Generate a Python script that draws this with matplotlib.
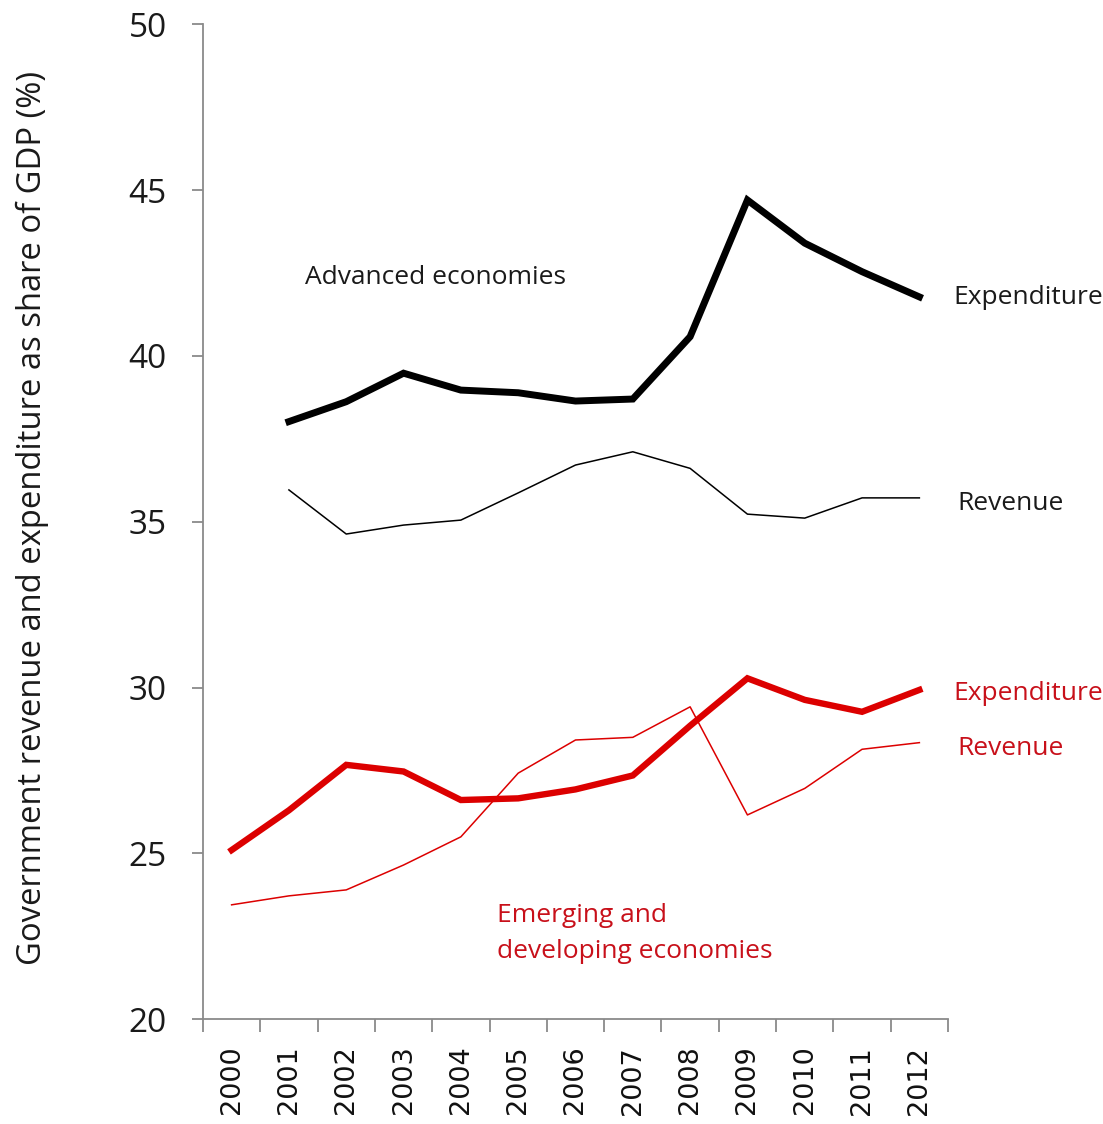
import numpy as np
import matplotlib
matplotlib.use("Agg")
import matplotlib.pyplot as plt
from matplotlib.ticker import FixedLocator, NullFormatter

# Government revenue and expenditure, % of GDP
years = [str(y) for y in range(2000, 2013)]

adv_expenditure = [np.nan, 38.02, 38.62, 39.48, 38.97, 38.89, 38.64, 38.70,
                   40.58, 44.70, 43.40, 42.54, 41.78]
adv_revenue = [np.nan, 35.96, 34.63, 34.90, 35.05, 35.87, 36.71, 37.11,
               36.61, 35.23, 35.11, 35.72, 35.72]
em_expenditure = [25.10, 26.30, 27.67, 27.47, 26.61, 26.66, 26.93, 27.35,
                  28.85, 30.28, 29.63, 29.27, 29.93]
em_revenue = [23.45, 23.72, 23.90, 24.65, 25.50, 27.42, 28.42, 28.50,
              29.42, 26.16, 26.96, 28.14, 28.34]

y_ticks = [20, 25, 30, 35, 40, 45, 50]

BLACK = "#000000"
RED_LINE = "#dc0000"
RED_TEXT = "#c8101a"
SANS = ["Open Sans", "DejaVu Sans"]
LABEL_SIZE = 19

fig = plt.figure(figsize=(11.03, 11.24), dpi=100)
ax = fig.add_axes([0.184, 0.0932, 0.8595 - 0.184, 0.9784 - 0.0932])

x = np.arange(len(years))
ax.plot(x, adv_expenditure, color=BLACK, lw=5.0, solid_joinstyle="miter")
ax.plot(x, adv_revenue, color=BLACK, lw=1.1)
ax.plot(x, em_expenditure, color=RED_LINE, lw=4.6, solid_joinstyle="miter")
ax.plot(x, em_revenue, color=RED_LINE, lw=1.1)

ax.set_xlim(-0.5, len(years) - 0.5)
ax.set_ylim(20, 50)

# Spines
for side in ("top", "right"):
    ax.spines[side].set_visible(False)
for side in ("left", "bottom"):
    ax.spines[side].set_color("#8a8a8a")
    ax.spines[side].set_linewidth(1.3)

# Y axis
ax.set_yticks(y_ticks)
ax.set_yticklabels([str(v) for v in y_ticks], fontfamily=SANS, fontsize=24,
                   color="#1a1a1a")
ax.tick_params(axis="y", direction="out", length=8, width=1.3,
               color="#8a8a8a", pad=18)

# X axis: tick marks between categories, labels at category centres
ax.xaxis.set_major_locator(FixedLocator(np.arange(-0.5, len(years), 1.0)))
ax.xaxis.set_major_formatter(NullFormatter())
ax.xaxis.set_minor_locator(FixedLocator(x))
ax.set_xticklabels(years, minor=True, rotation=90, fontfamily="DejaVu Sans",
                   fontsize=19.5, color="#111111")
ax.tick_params(axis="x", which="major", direction="out", length=9, width=1.3,
               color="#8a8a8a")
ax.tick_params(axis="x", which="minor", length=0, pad=19)

ax.set_ylabel("Government revenue and expenditure as share of GDP (%)",
              fontfamily=SANS, fontsize=23.6, color="#1a1a1a")
ax.yaxis.set_label_coords(-0.207, 0.504)

# Annotations
ax.text(1.28, 42.35, "Advanced economies", fontfamily=SANS,
        fontsize=LABEL_SIZE, color="#1a1a1a", ha="left", va="center")
ax.text(12.59, 41.75, "Expenditure", fontfamily=SANS, fontsize=LABEL_SIZE,
        color="#1a1a1a", ha="left", va="center", clip_on=False)
ax.text(12.66, 35.56, "Revenue", fontfamily=SANS, fontsize=LABEL_SIZE,
        color="#1a1a1a", ha="left", va="center", clip_on=False)
ax.text(12.59, 29.83, "Expenditure", fontfamily=SANS, fontsize=LABEL_SIZE,
        color=RED_TEXT, ha="left", va="center", clip_on=False)
ax.text(12.66, 28.17, "Revenue", fontfamily=SANS, fontsize=LABEL_SIZE,
        color=RED_TEXT, ha="left", va="center", clip_on=False)
ax.text(4.63, 23.14, "Emerging and", fontfamily=SANS, fontsize=LABEL_SIZE,
        color=RED_TEXT, ha="left", va="center")
ax.text(4.63, 22.03, "developing economies", fontfamily=SANS,
        fontsize=LABEL_SIZE, color=RED_TEXT, ha="left", va="center")

fig.savefig("out.png", dpi=100, facecolor="white")
